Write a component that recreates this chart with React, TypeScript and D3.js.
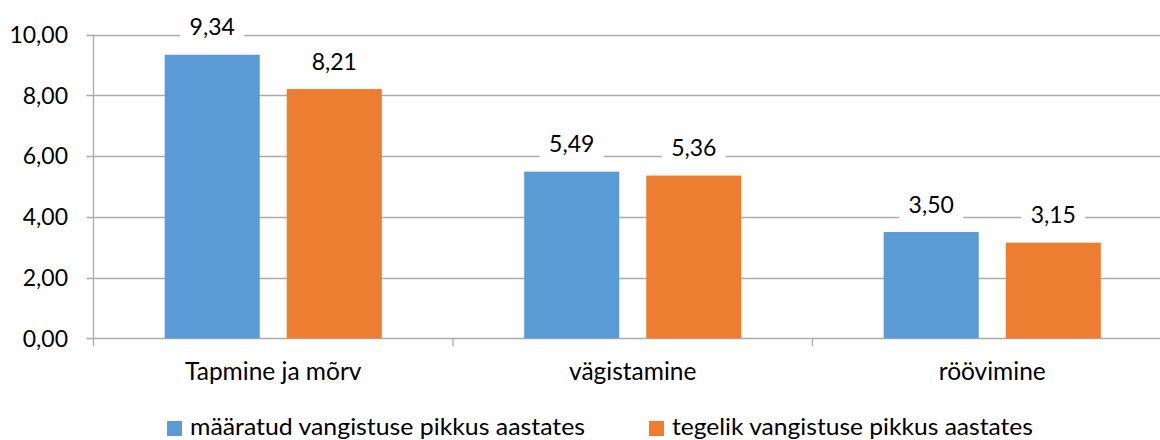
import React from "react";
import * as d3 from "d3";

const categories = ["Tapmine ja mõrv", "vägistamine", "röövimine"];
const seriesNames = ["määratud vangistuse pikkus aastates", "tegelik vangistuse pikkus aastates"];
const seriesColors = ["#5B9BD5", "#ED7D31"];
const assigned = [9.34, 5.49, 3.5];
const actual = [8.21, 5.36, 3.15];
const yTicks = [0, 2, 4, 6, 8, 10];

const W = 1160;
const H = 440;
const FONT = "Lato, 'Open Sans', sans-serif";

export default function App() {
  const left = 93.5;
  const right = 1172;
  const top = 34.7;
  const bottom = 338.3;
  const x0 = d3.scaleBand<string>().domain(categories).range([left, right]).paddingInner(0).paddingOuter(0);
  const x1 = d3
    .scaleBand<number>()
    .domain([0, 1])
    .range([0, x0.bandwidth()])
    .paddingInner(0.2213)
    .paddingOuter(0.583);
  const y = d3.scaleLinear().domain([0, 10]).range([bottom, top]);
  const series = [assigned, actual];
  const fmt = (v: number) => v.toFixed(2).replace(".", ",");
  const grid = "#ABABAB";

  const labels: { x: number; y: number; t: string }[] = [];
  categories.forEach((c, ci) => {
    series.forEach((s, si) => {
      const cx = (x0(c) as number) + (x1(si) as number) + x1.bandwidth() / 2;
      labels.push({ x: cx, y: y(s[ci]) - 19.5, t: fmt(s[ci]) });
    });
  });

  const legendItems = [
    { x: 167, len: 395 },
    { x: 649, len: 361 },
  ];

  return (
    <svg width={W} height={H} style={{ display: "block", position: "absolute", left: 0, top: 0, background: "#fff" }} fontFamily={FONT}>
      <rect x={0} y={0} width={W} height={H} fill="#fff" />
      {/* gridlines */}
      {yTicks.map((t) => (
        <line key={t} x1={left - 7} x2={right} y1={Math.round(y(t)) + 0.5} y2={Math.round(y(t)) + 0.5} stroke={grid} strokeWidth={1.3} />
      ))}
      {/* y axis line */}
      <line x1={left} x2={left} y1={top} y2={bottom + 8} stroke={grid} strokeWidth={1.3} />
      {/* category ticks */}
      {categories.map((c, i) =>
        i === 0 ? null : (
          <line key={c} x1={x0(c) as number} x2={x0(c) as number} y1={bottom} y2={bottom + 8} stroke={grid} strokeWidth={1.3} />
        )
      )}
      {/* bars */}
      {categories.map((c, ci) =>
        series.map((s, si) => (
          <rect
            key={c + si}
            x={(x0(c) as number) + (x1(si) as number)}
            y={y(s[ci])}
            width={x1.bandwidth()}
            height={bottom - y(s[ci])}
            fill={seriesColors[si]}
          />
        ))
      )}
      {/* data labels */}
      {labels.map((l, i) => (
        <g key={i}>
          <rect x={l.x - 32} y={l.y - 20} width={64} height={27} fill="#fff" />
          <text x={l.x} y={l.y} textAnchor="middle" fontSize={23} fill="#000">
            {l.t}
          </text>
        </g>
      ))}
      {/* y tick labels */}
      {yTicks.map((t) => (
        <text key={t} x={68} y={y(t)} dy="0.36em" textAnchor="end" fontSize={23} fill="#000">
          {fmt(t)}
        </text>
      ))}
      {/* category labels */}
      {categories.map((c) => (
        <text key={c} x={(x0(c) as number) + x0.bandwidth() / 2} y={380} textAnchor="middle" fontSize={24.5} fill="#000">
          {c}
        </text>
      ))}
      {/* legend */}
      {seriesNames.map((n, i) => {
        const lx = legendItems[i].x;
        return (
          <g key={n}>
            <rect x={lx} y={421} width={15} height={15} fill={seriesColors[i]} />
            <text x={lx + 23} y={435} fontSize={23} fill="#000" textLength={legendItems[i].len} lengthAdjust="spacingAndGlyphs">
              {n}
            </text>
          </g>
        );
      })}
    </svg>
  );
}
